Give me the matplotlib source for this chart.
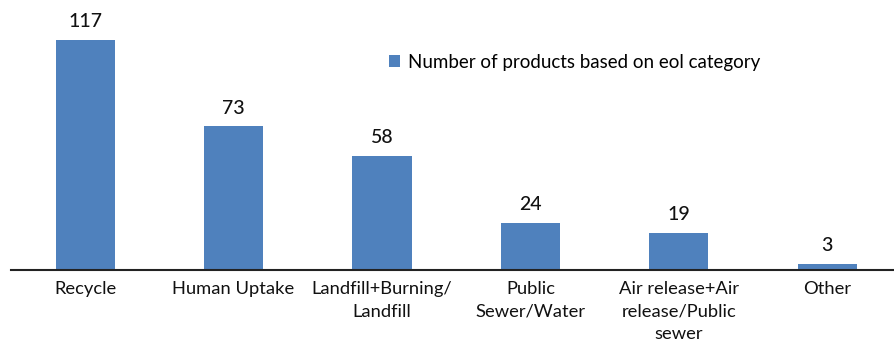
import matplotlib
matplotlib.use("Agg")
import matplotlib.pyplot as plt

categories = ["Recycle", "Human Uptake", "Landfill+Burning/\nLandfill", "Public\nSewer/Water",
              "Air release+Air\nrelease/Public\nsewer", "Other"]
values = [117, 73, 58, 24, 19, 3]
series_name = "Number of products based on eol category"

plt.rcParams['font.family'] = ['Lato', 'DejaVu Sans']

fig = plt.figure(figsize=(8.94, 3.47), dpi=100)
ax = fig.add_axes([11/894, 77/347, 1 - 11/894, 270/347])
x = list(range(len(categories)))
bars = ax.bar(x, values, width=0.4, color="#4F81BD", label=series_name)
ax.set_xlim(-0.5, 5.45)
ax.set_ylim(0, 137.3)
for xi, v in zip(x, values):
    ax.annotate(str(v), (xi, v), xytext=(0, 7), textcoords="offset points",
                ha="center", va="bottom", fontsize=14, color="#111111", weight="medium")
ax.set_xticks(x)
ax.set_xticklabels(categories, fontsize=13.2, linespacing=1.5, color="#111111")
ax.tick_params(axis="x", length=0, pad=8)
ax.set_yticks([])
for s in ["top", "right", "left"]:
    ax.spines[s].set_visible(False)
ax.spines["bottom"].set_linewidth(1.5)
ax.spines["bottom"].set_color("#222222")
ax.legend(loc="upper left", bbox_to_anchor=(361/883, 1 - 37/270), frameon=False,
          fontsize=13.5, handlelength=0.6, handleheight=0.6, handletextpad=0.4)
fig.savefig("out.png", dpi=100)
